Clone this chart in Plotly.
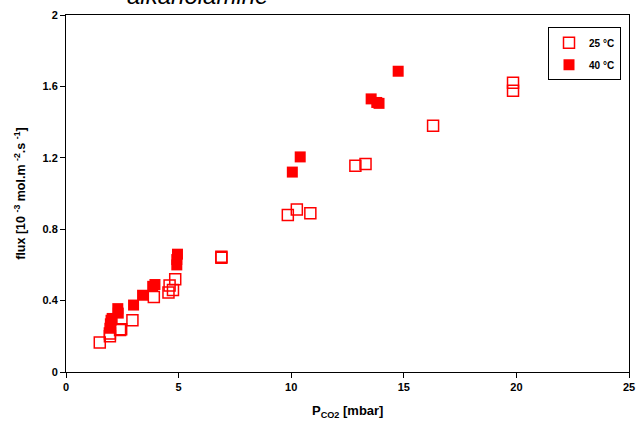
import plotly.graph_objects as go

# 25 °C (open squares)
p25 = [1.5, 1.95, 1.95, 2.4, 2.45, 2.95, 3.9, 4.55, 4.6, 4.75, 4.85, 6.9, 6.9,
       9.85, 10.25, 10.85, 12.85, 13.3, 16.3, 19.85, 19.85]
f25 = [0.165, 0.20, 0.215, 0.235, 0.24, 0.29, 0.42, 0.445, 0.485, 0.46, 0.52, 0.64, 0.645,
       0.88, 0.91, 0.89, 1.155, 1.165, 1.38, 1.62, 1.575]

# 40 °C (filled squares)
p40 = [1.95, 1.97, 2.0, 2.05, 2.3, 2.32, 3.0, 3.4, 3.85, 3.95, 4.92, 4.92, 4.95,
       10.05, 10.4, 13.55, 13.8, 13.9, 14.75]
f40 = [0.245, 0.27, 0.29, 0.30, 0.355, 0.33, 0.375, 0.43, 0.48, 0.49, 0.60, 0.63, 0.66,
       1.12, 1.205, 1.53, 1.51, 1.505, 1.685]

x_ticks = [0, 5, 10, 15, 20, 25]
y_ticks = [0, 0.4, 0.8, 1.2, 1.6, 2]
y_tick_labels = ["0", "0.4", "0.8", "1.2", "1.6", "2"]

FONT = "Liberation Sans, Arial, sans-serif"

fig = go.Figure()
fig.add_trace(go.Scatter(
    x=p25, y=f25, mode="markers", name="<b>25 °C</b>", legendgroup="a",
    marker=dict(symbol="square-open", size=11, color="#FF0000", line=dict(width=1.5, color="#FF0000")),
))
fig.add_trace(go.Scatter(
    x=p40, y=f40, mode="markers", name="<b>40 °C</b>", legendgroup="b",
    marker=dict(symbol="square", size=11, color="#FF0000", line=dict(width=0)),
))

fig.update_layout(
    width=637, height=423,
    margin=dict(l=66, r=8, t=15, b=51, autoexpand=False),
    paper_bgcolor="white", plot_bgcolor="white",
    font=dict(family=FONT, color="black", size=11),
    showlegend=True,
    legend=dict(
        x=0.9858, y=0.966, xanchor="right", yanchor="top",
        bordercolor="black", borderwidth=1, bgcolor="white",
        font=dict(size=10, family=FONT), tracegroupgap=3,
        traceorder="grouped", itemwidth=30,
    ),
    xaxis=dict(
        range=[0, 25], tickvals=x_ticks, ticktext=[f"<b>{v}</b>" for v in x_ticks],
        showline=True, linecolor="black", linewidth=1, mirror=True, automargin=False,
        ticks="outside", ticklen=5, tickcolor="black", showgrid=False, zeroline=False,
        tickfont=dict(size=11),
    ),
    yaxis=dict(
        range=[0, 2], tickvals=y_ticks, ticktext=[f"<b>{t}</b>" for t in y_tick_labels],
        showline=True, linecolor="black", linewidth=1, mirror=True, automargin=False,
        ticks="outside", ticklen=5, tickcolor="black", showgrid=False, zeroline=False,
        tickfont=dict(size=11),
    ),
    annotations=[
        dict(text="alkanolamine", xref="paper", yref="paper", x=0.233, y=1.012,
             xanchor="center", yanchor="bottom", showarrow=False,
             font=dict(size=24, family=FONT, style="italic")),
        dict(text="<b>flux [10 <sup>-3</sup> mol.m <sup>-2</sup>.s <sup>-1</sup>]</b>",
             xref="paper", yref="paper", x=-0.083, y=0.5, textangle=-90,
             xanchor="center", yanchor="middle", showarrow=False, font=dict(size=12.5)),
        dict(text="<b>P<sub>CO2</sub> [mbar]</b>", xref="paper", yref="paper",
             x=0.5, y=-0.08, xanchor="center", yanchor="top", showarrow=False,
             font=dict(size=13)),
    ],
)

fig.write_html("out.html", config={"displayModeBar": False},
               post_script="document.body.style.margin='0';")
